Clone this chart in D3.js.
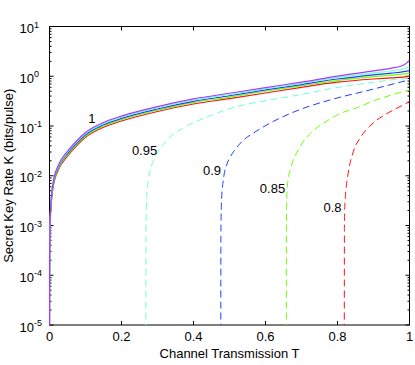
<!DOCTYPE html>
<html>
<head>
<meta charset="utf-8">
<script src="https://cdn.jsdelivr.net/npm/d3@7"></script>
<style>
  body { margin: 0; background: #fff; }
  svg { display: block; font-family: "Liberation Sans", Arial, Helvetica, sans-serif; }
</style>
</head>
<body>
<svg id="chart"></svg>
<script>
// ---- data ----
const xTicks = [0, 0.2, 0.4, 0.6, 0.8, 1];
const xTickLabels = ['0', '0.2', '0.4', '0.6', '0.8', '1'];
const yTickExp = [1, 0, -1, -2, -3, -4, -5];

// solid curves, one per efficiency
const solidT    = [0.00001, 0.0001, 0.0005, 0.002, 0.005, 0.01, 0.025, 0.05, 0.075, 0.1, 0.15, 0.2, 0.3, 0.4, 0.5, 0.6, 0.7, 0.8, 0.9, 0.95, 0.98, 1.0];
const solidK100 = [0.000007, 0.00007, 0.00036, 0.00145, 0.0036, 0.0073, 0.0165, 0.031, 0.05, 0.074, 0.118, 0.158, 0.245, 0.35, 0.455, 0.59, 0.76, 1.01, 1.28, 1.46, 1.63, 2.04];
const solidK095 = [0.0000066, 0.0000665, 0.000342, 0.00138, 0.00342, 0.00694, 0.0157, 0.0295, 0.0475, 0.0703, 0.112, 0.15, 0.233, 0.333, 0.43, 0.56, 0.72, 0.95, 1.17, 1.29, 1.38, 1.55];
const solidK090 = [0.0000063, 0.000063, 0.000324, 0.0013, 0.00324, 0.00657, 0.0149, 0.0279, 0.045, 0.0666, 0.106, 0.142, 0.22, 0.313, 0.405, 0.53, 0.68, 0.88, 1.07, 1.16, 1.22, 1.30];
const solidK085 = [0.000006, 0.0000595, 0.000306, 0.00123, 0.00306, 0.0062, 0.014, 0.0264, 0.0425, 0.0629, 0.1, 0.134, 0.208, 0.296, 0.38, 0.5, 0.64, 0.82, 0.98, 1.05, 1.1, 1.16];
const solidK080 = [0.0000056, 0.000056, 0.000288, 0.00116, 0.00288, 0.00584, 0.0132, 0.0248, 0.04, 0.0592, 0.0944, 0.126, 0.196, 0.277, 0.355, 0.46, 0.6, 0.76, 0.88, 0.93, 0.96, 0.99];

// dashed curves (start at a threshold transmission)
const dashT095 = [0.2676, 0.268, 0.269, 0.271, 0.275, 0.28, 0.29, 0.3, 0.315, 0.335, 0.37, 0.43, 0.52, 0.61, 0.7, 0.78, 0.9, 1.0];
const dashK095 = [0.000001, 0.0006, 0.0022, 0.0048, 0.0085, 0.013, 0.021, 0.029, 0.042, 0.06, 0.09, 0.145, 0.245, 0.333, 0.43, 0.56, 0.76, 0.93];
const dashT090 = [0.4757, 0.4762, 0.477, 0.479, 0.482, 0.486, 0.492, 0.5, 0.512, 0.525, 0.54, 0.565, 0.62, 0.67, 0.7, 0.78, 0.89, 1.0];
const dashK090 = [0.000001, 0.0008, 0.002, 0.0045, 0.0075, 0.0115, 0.0165, 0.0225, 0.031, 0.041, 0.053, 0.071, 0.122, 0.18, 0.22, 0.335, 0.53, 0.85];
const dashT085 = [0.6578, 0.6582, 0.659, 0.661, 0.664, 0.668, 0.675, 0.687, 0.7, 0.715, 0.735, 0.76, 0.805, 0.855, 0.905, 0.95, 1.0];
const dashK085 = [0.000001, 0.0009, 0.0035, 0.0065, 0.0095, 0.0125, 0.019, 0.029, 0.043, 0.06, 0.083, 0.112, 0.175, 0.235, 0.33, 0.42, 0.53];
const dashT080 = [0.8188, 0.8192, 0.82, 0.8215, 0.824, 0.828, 0.8345, 0.841, 0.8485, 0.86, 0.8715, 0.89, 0.909, 0.93, 0.955, 0.978, 1.0];
const dashK080 = [0.000001, 0.0009, 0.002, 0.0035, 0.0058, 0.0095, 0.0175, 0.026, 0.038, 0.053, 0.071, 0.1, 0.132, 0.165, 0.21, 0.255, 0.31];

// curve labels, placed in data coordinates
const labelText = ['1', '0.95', '0.9', '0.85', '0.8'];
const labelT = [0.1177, 0.264, 0.4516, 0.6195, 0.786];
const labelK = [0.14, 0.0328, 0.01268, 0.0057, 0.00236];

// ---- drawing ----
const width = 415, height = 365;
const svg = d3.select('#chart').attr('width', width).attr('height', height);

const x = d3.scaleLinear().domain([0, 1]).range([49.5, 409.5]);
const y = d3.scaleLog().domain([1e-5, 10]).range([325, 26.5]);

const zip = (ts, ks) => ts.map((t, i) => [t, ks[i]]);
const solids = [
  { pts: zip(solidT, solidK080), color: '#ff1010' },
  { pts: zip(solidT, solidK085), color: '#70ff00' },
  { pts: zip(solidT, solidK090), color: '#2040ff' },
  { pts: zip(solidT, solidK095), color: '#70ffd8' },
  { pts: zip(solidT, solidK100), color: '#a838ff' },
];
const dashes = [
  { pts: zip(dashT095, dashK095), color: '#70ffd8' },
  { pts: zip(dashT090, dashK090), color: '#2040ff' },
  { pts: zip(dashT085, dashK085), color: '#70ff00' },
  { pts: zip(dashT080, dashK080), color: '#ff1010' },
];

svg.append('clipPath').attr('id', 'plotclip')
  .append('rect').attr('x', 49).attr('y', 26.5).attr('width', 361).attr('height', 298.5);

// frame
svg.append('rect')
  .attr('x', x(0)).attr('y', y(10))
  .attr('width', x(1) - x(0)).attr('height', y(1e-5) - y(10))
  .attr('fill', 'none').attr('stroke', '#000').attr('stroke-width', 1);

// ticks (inward, on all four sides)
const yMinor = [];
for (let e = -5; e < 1; e++) for (let m = 2; m <= 9; m++) yMinor.push(m * Math.pow(10, e));
const yMajor = yTickExp.map(e => Math.pow(10, e));
const tickG = svg.append('g').attr('stroke', '#000').attr('stroke-width', 1);
xTicks.forEach(t => {
  tickG.append('line').attr('x1', x(t)).attr('x2', x(t)).attr('y1', y(1e-5)).attr('y2', y(1e-5) - 4);
  tickG.append('line').attr('x1', x(t)).attr('x2', x(t)).attr('y1', y(10)).attr('y2', y(10) + 4);
});
yMajor.forEach(v => {
  tickG.append('line').attr('x1', x(0)).attr('x2', x(0) + 4).attr('y1', y(v)).attr('y2', y(v));
  tickG.append('line').attr('x1', x(1)).attr('x2', x(1) - 4).attr('y1', y(v)).attr('y2', y(v));
});
yMinor.forEach(v => {
  tickG.append('line').attr('x1', x(0)).attr('x2', x(0) + 2).attr('y1', y(v)).attr('y2', y(v));
  tickG.append('line').attr('x1', x(1)).attr('x2', x(1) - 2).attr('y1', y(v)).attr('y2', y(v));
});

// x tick labels
svg.append('g').selectAll('text').data(xTicks).join('text')
  .attr('x', d => x(d)).attr('y', 340.5)
  .attr('text-anchor', 'middle').attr('font-size', 13)
  .text((d, i) => xTickLabels[i]);

// y tick labels with superscript exponents
const yl = svg.append('g').selectAll('g').data(yTickExp).join('g');
yl.append('text')
  .attr('x', 34).attr('y', e => y(Math.pow(10, e)) + 6.5)
  .attr('text-anchor', 'end').attr('font-size', 13).text('10');
yl.append('text')
  .attr('x', 34).attr('y', e => y(Math.pow(10, e)) + 1)
  .attr('font-size', 9).text(e => String(e));

// curves
const line = d3.line().x(d => x(d[0])).y(d => y(d[1])).curve(d3.curveMonotoneX);
const plot = svg.append('g').attr('clip-path', 'url(#plotclip)');
plot.selectAll('path.solid').data(solids).join('path')
  .attr('class', 'solid')
  .attr('d', d => line(d.pts))
  .attr('fill', 'none').attr('stroke', d => d.color).attr('stroke-width', 1.2);
plot.selectAll('path.dash').data(dashes).join('path')
  .attr('class', 'dash')
  .attr('d', d => line(d.pts))
  .attr('fill', 'none').attr('stroke', d => d.color).attr('stroke-width', 1)
  .attr('stroke-dasharray', '7,4');

// curve labels
svg.append('g').selectAll('text').data(labelText).join('text')
  .attr('x', (d, i) => x(labelT[i])).attr('y', (d, i) => y(labelK[i]))
  .attr('dy', '0.36em').attr('text-anchor', 'middle').attr('font-size', 13)
  .text(d => d);

// axis titles
svg.append('text')
  .attr('x', (x(0) + x(1)) / 2).attr('y', 357.5)
  .attr('text-anchor', 'middle').attr('font-size', 13)
  .text('Channel Transmission T');
svg.append('text')
  .attr('transform', `translate(12.5,${(y(10) + y(1e-5)) / 2}) rotate(-90)`)
  .attr('text-anchor', 'middle').attr('font-size', 13)
  .text('Secret Key Rate K (bits/pulse)');
</script>
</body>
</html>
